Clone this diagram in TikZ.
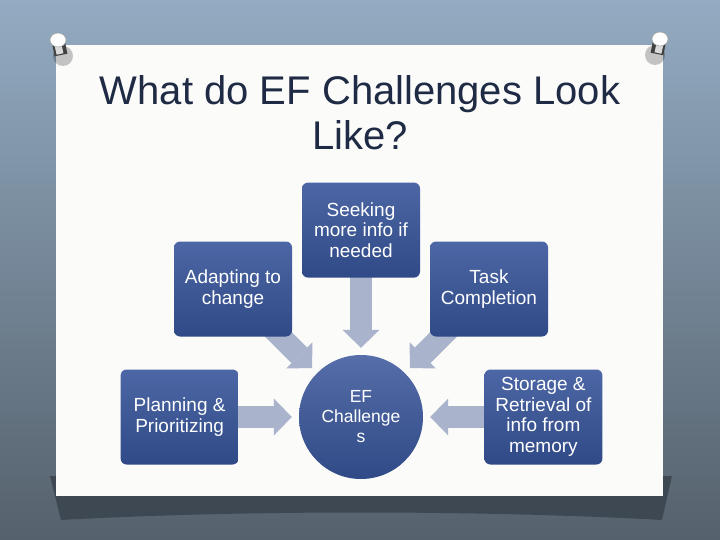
\documentclass[tikz,border=0pt]{standalone}
\usepackage{fontspec}
\setmainfont{Liberation Sans}
\usetikzlibrary{positioning,arrows.meta}
\definecolor{wallTop}{HTML}{93ABC2}
\definecolor{wallBot}{HTML}{55616C}
\definecolor{shadowDark}{HTML}{3E4852}
\definecolor{cardWhite}{HTML}{FBFBFA}
\definecolor{titleBlue}{HTML}{1F2A44}
\definecolor{boxTop}{HTML}{4D66A5}
\definecolor{boxBot}{HTML}{2F4A86}
\definecolor{flowGray}{HTML}{A9B3CC}
\pgfdeclarelayer{paper}
\pgfdeclarelayer{links}
\pgfsetlayers{paper,links,main}

\begin{document}
\begin{tikzpicture}[x=1pt, y=-1pt,
    box/.style={rectangle, rounded corners=6pt, minimum width=118pt, minimum height=95pt,
        top color=boxTop, bottom color=boxBot, text=white, align=center, inner sep=2pt,
        font=\fontsize{19}{20.5}\selectfont},
    hub/.style={circle, minimum size=124pt, inner sep=0pt, top color=boxTop!95!white,
        bottom color=boxBot, text=white, align=center, font=\fontsize{17.5}{20}\selectfont},
    flow/.style={line width=22pt, draw=flowGray,
        -{Triangle[width=37pt,length=18pt,line width=0pt]}, shorten >=7pt}]
\useasboundingbox (0,0) rectangle (720,540);

% wall, card and pins
\begin{pgfonlayer}{paper}
    \shade[top color=wallTop, bottom color=wallBot] (0,0) rectangle (720,540);
    \fill[shadowDark] (50,476) -- (672,476) -- (662,520) .. controls (480,510) and (240,510) .. (61,520) -- cycle;
    \fill[cardWhite] (56,45) rectangle (663,496);
    \foreach \px/\py/\dx in {58/40/1, 660/39/-1} {
        \fill[black, opacity=0.22] (\px+5*\dx,\py+16) circle (10);
        \draw[line width=13pt, gray!50!black] (\px,\py) -- (\px+3*\dx,\py+15);
        \draw[line width=7pt, gray!30] (\px-1*\dx,\py) -- (\px+2*\dx,\py+14);
        \fill[white] (\px,\py) ellipse (8 and 7);
        \draw[gray!70, line width=0.6pt] (\px,\py) ellipse (8 and 7);
    }
\end{pgfonlayer}

\node (title) [text=titleBlue, align=center, font=\fontsize{40}{45}\selectfont] at (360,113)
    {What do EF Challenges Look\\Like?};

% the five factors round the hub
\node (ef) [hub] at (361,417) {EF\\Challenge\\s};
\node (plan) [box, left=60pt of ef] {Planning \&\\Prioritizing};
\node (store) [box, right=61pt of ef] {Storage \&\\Retrieval of\\info from\\memory};
\node (seek) [box, above=77pt of ef] {Seeking\\more info if\\needed};
\node (adapt) [box] at (233,289) {Adapting to\\change};
\node (task) [box] at (489,289) {Task\\Completion};

\begin{pgfonlayer}{links}
    \foreach \src in {plan,store,seek,adapt,task}
        \draw[flow] (\src.center) -- (ef);
\end{pgfonlayer}
\end{tikzpicture}
\end{document}
